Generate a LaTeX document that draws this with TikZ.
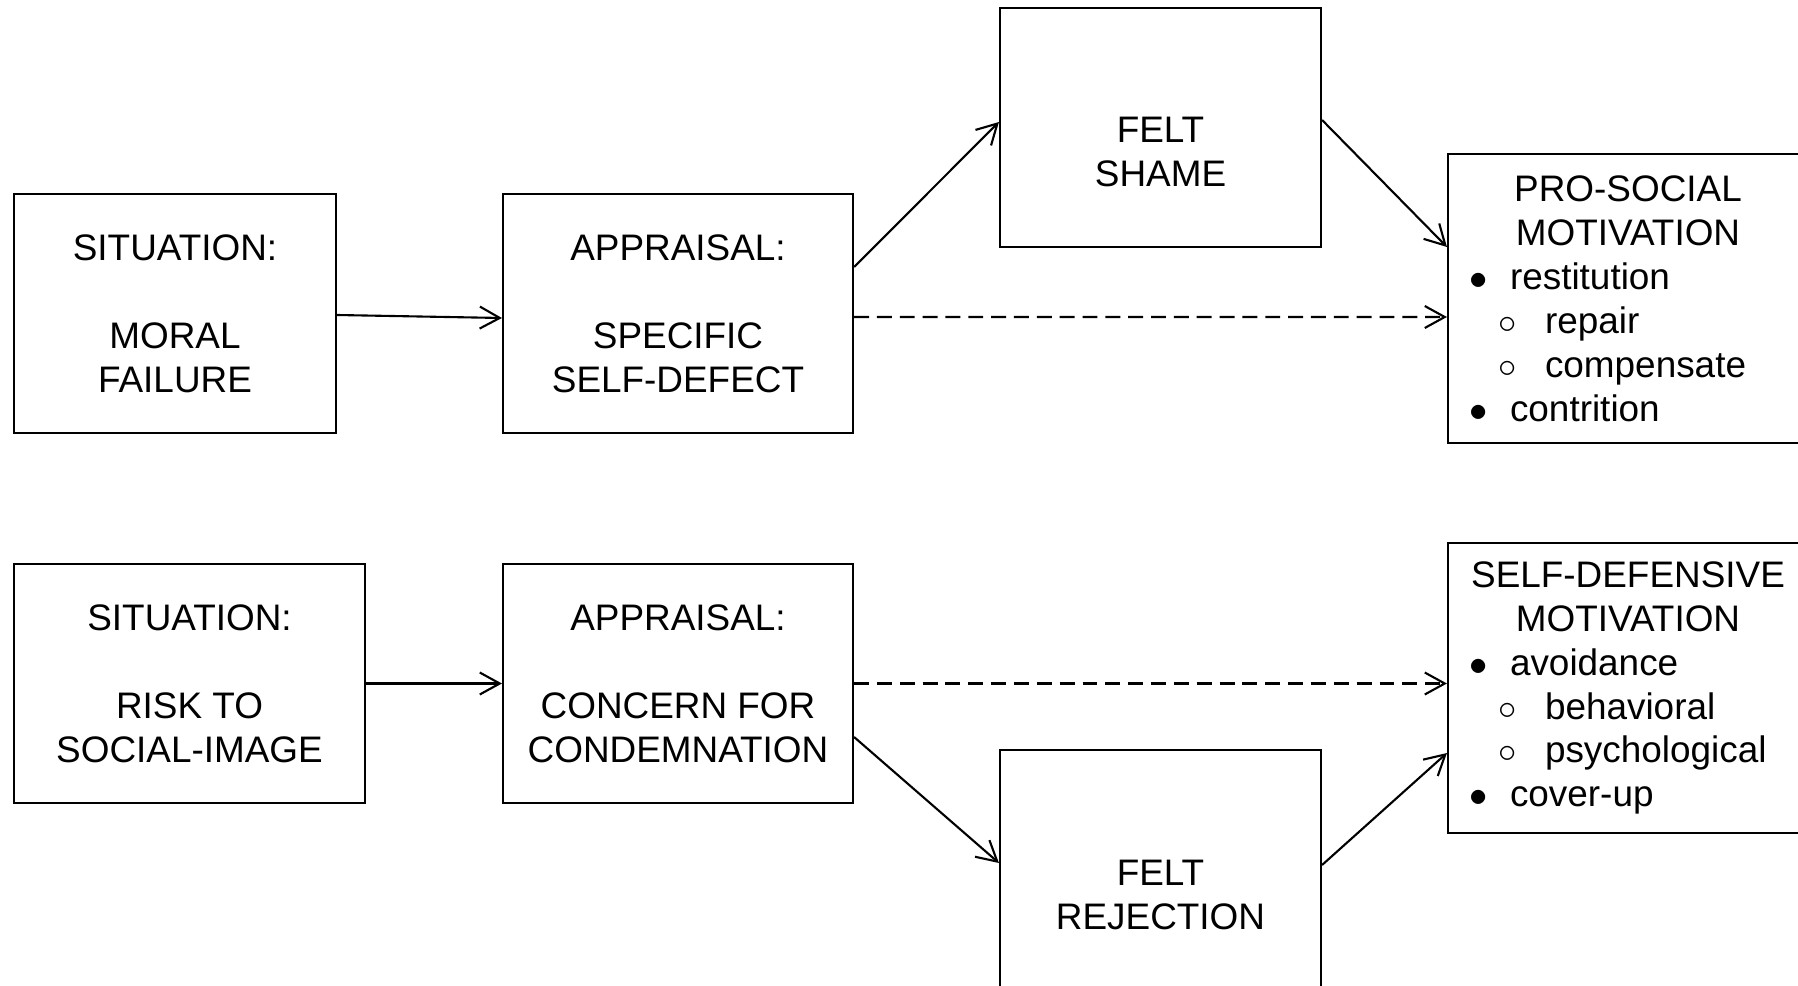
\documentclass[tikz,border=0pt]{standalone}
\usepackage{fontspec}
\setmainfont{Liberation Sans}
\usetikzlibrary{arrows.meta}
\newcommand{\topitem}[1]{\makebox[1.24cm][c]{$\bullet$}#1}
\newcommand{\lowitem}[1]{\hspace*{0.96cm}\makebox[0.48cm][c]{$\circ$}\hspace*{0.5cm}#1}
\tikzstyle{stage}=[draw, line width=1.2pt, inner sep=0pt, align=center, minimum height=4.78cm, font=\fontsize{21}{25}\selectfont]
\tikzstyle{listbox}=[stage, align=left, text width=7.2cm, minimum height=5.8cm]
\tikzstyle{link}=[draw, line width=1.2pt, -{Straight Barb[length=4mm,width=4.4mm]}]
\tikzstyle{weaklink}=[link, dash pattern=on 8.5pt off 4.5pt]
\begin{document}
\begin{tikzpicture}
  \useasboundingbox (0,0) rectangle (35.96,-19.72);

  % upper row
  \node (s1) [stage, minimum width=6.44cm] at (3.5,-6.27)
        {SITUATION:\\\mbox{}\\MORAL\\FAILURE};
  \node (a1) [stage, minimum width=7cm] at (13.56,-6.27)
        {APPRAISAL:\\\mbox{}\\SPECIFIC\\SELF-DEFECT};
  \node (f1) [stage, minimum width=6.42cm] at (23.21,-2.55)
        {\strut\\FELT\\SHAME};
  \node (m1) [listbox, minimum height=5.78cm] at (32.56,-5.97)
        {\makebox[7.2cm][c]{PRO-SOCIAL}\\
         \makebox[7.2cm][c]{MOTIVATION}\\
         \topitem{restitution}\\
         \lowitem{repair}\\
         \lowitem{compensate}\\
         \topitem{contrition}};

  % lower row
  \node (s2) [stage, minimum width=7.02cm] at (3.79,-13.67)
        {SITUATION:\\\mbox{}\\RISK TO\\SOCIAL-IMAGE};
  \node (a2) [stage, minimum width=7cm] at (13.56,-13.67)
        {APPRAISAL:\\\mbox{}\\CONCERN FOR\\CONDEMNATION};
  \node (f2) [stage, minimum width=6.42cm, minimum height=4.8cm] at (23.21,-17.4)
        {\strut\\FELT\\REJECTION};
  \node (m2) [listbox] at (32.56,-13.76)
        {\makebox[7.2cm][c]{SELF-DEFENSIVE}\\
         \makebox[7.2cm][c]{MOTIVATION}\\
         \topitem{avoidance}\\
         \lowitem{behavioral}\\
         \lowitem{psychological}\\
         \topitem{cover-up}};

  % connections
  \draw [link] ([yshift=-0.03cm]s1.east) -- ([yshift=-0.09cm]a1.west);
  \draw [link] ([yshift=0.93cm]a1.east) -- ([yshift=0.11cm]f1.west);
  \draw [link] ([yshift=0.15cm]f1.east) -- ([yshift=1.03cm]m1.west);
  \draw [weaklink] ([yshift=-0.07cm]a1.east) -- ([yshift=-0.37cm]m1.west);

  \draw [link] (s2.east) -- (a2.west);
  \draw [link] ([yshift=-1.07cm]a2.east) -- ([yshift=0.14cm]f2.west);
  \draw [link] ([yshift=0.1cm]f2.east) -- ([yshift=-1.3cm]m2.west);
  \draw [weaklink] (a2.east) -- ([yshift=0.09cm]m2.west);

\end{tikzpicture}
\end{document}
